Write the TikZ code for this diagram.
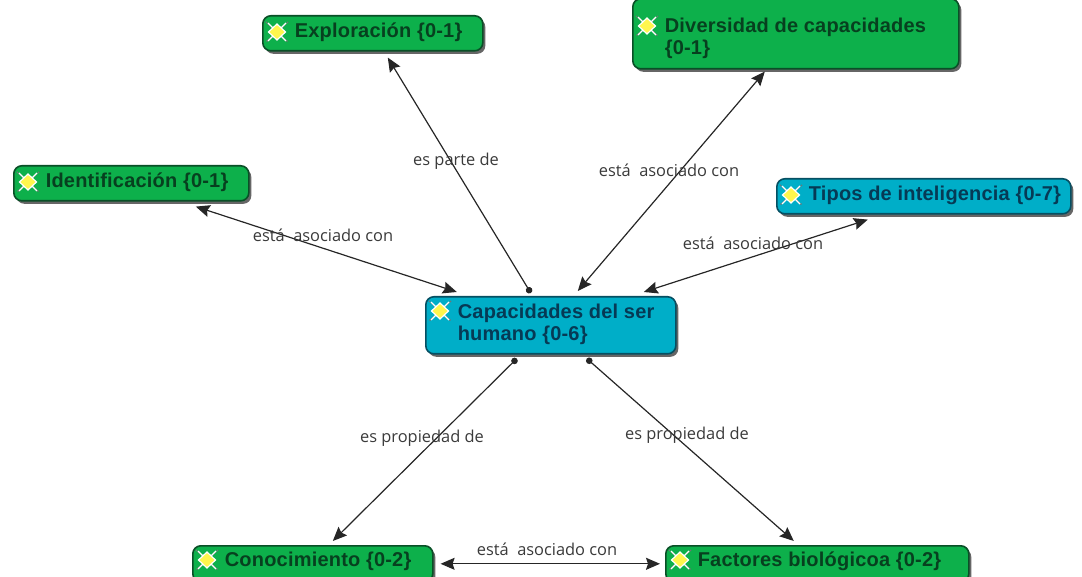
\documentclass[tikz,border=0pt]{standalone}
\usepackage{fontspec}
\setmainfont{Liberation Sans}
\newfontfamily\lblfont{Open Sans}
\newfontfamily\boxfont[LetterSpace=1]{Liberation Sans Bold}
\usetikzlibrary{calc,arrows.meta,shadows}
\definecolor{boxgreen}{HTML}{0DB04B}
\definecolor{boxblue}{HTML}{00AEC8}
\definecolor{greentxt}{HTML}{07401F}
\definecolor{bluetxt}{HTML}{063A55}
\definecolor{edgegreen}{HTML}{0A4F27}
\definecolor{edgeblue}{HTML}{064F62}
\definecolor{lbl}{HTML}{3A3A3A}
\newcommand{\boxtext}[2]{\makebox[#1pt][l]{\hspace{32pt}\begin{tabular}{@{}l@{}}#2\end{tabular}}}
\tikzset{
  x=1pt,y=-1pt,
  concept/.style={rounded corners=8pt,line width=1.6pt,anchor=north west,inner sep=0pt,
    font=\boxfont\fontsize{20}{22}\selectfont,
    drop shadow={shadow xshift=2.5pt,shadow yshift=-3pt,fill=black,opacity=.6}},
  greenbox/.style={concept,fill=boxgreen,draw=edgegreen,text=greentxt},
  bluebox/.style={concept,fill=boxblue,draw=edgeblue,text=bluetxt},
  relabel/.style={font=\lblfont\fontsize{16.4}{19}\selectfont,text=lbl,inner sep=0pt},
  biarrow/.style={line width=1.2pt,draw=black!85,{Stealth[length=14pt,width=12pt,inset=2pt]}-{Stealth[length=14pt,width=12pt,inset=2pt]}},
  onearrow/.style={line width=1.2pt,draw=black!85,{Circle[length=6.5pt]}-{Stealth[length=14pt,width=12pt,inset=2pt]}},
  pics/icon/.style={code={
    \draw[black!55,line width=1.3pt,densely dotted] (-11,-10)--(11,10) (11,-10)--(-11,10);
    \draw[white,line width=1.2pt] (-9,-9)--(9,9) (9,-9)--(-9,9);
    \fill[fill=yellow!70!white,draw=white,line width=1.2pt] (-8.5,0)--(0,-8)--(8.5,0)--(0,8)--cycle;
  }}
}
\begin{document}
\begin{tikzpicture}
\useasboundingbox (0,0) rectangle (1082,577);
\clip (0,0) rectangle (1082,577);
\node[greenbox,minimum height=35pt] (expl) at (262,15) {\boxtext{220}{Exploración \{0-1\}}};
\node[greenbox,minimum height=70pt] (div) at (632,-2) {\boxtext{326}{\rule{0pt}{27pt}Diversidad de capacidades\\\{0-1\}}};
\node[greenbox,minimum height=35pt] (iden) at (13,165) {\boxtext{235}{Identificación \{0-1\}}};
\node[bluebox,minimum height=35pt] (tipos) at (776,178) {\boxtext{294}{Tipos de inteligencia \{0-7\}}};
\node[bluebox,minimum height=57pt] (cap) at (425,296) {\boxtext{250}{Capacidades del ser\\humano \{0-6\}}};
\node[greenbox,minimum height=36pt] (con) at (192,545) {\boxtext{240}{Conocimiento \{0-2\}\rule[-10pt]{0pt}{10pt}}};
\node[greenbox,minimum height=36pt] (fac) at (665,545) {\boxtext{303}{Factores biológicoa \{0-2\}\rule[-10pt]{0pt}{10pt}}};
\pic at (277,32) {icon};
\pic at (647,26) {icon};
\pic at (28,182) {icon};
\pic at (791,195) {icon};
\pic at (440,311) {icon};
\pic at (207,560) {icon};
\pic at (680,560) {icon};
\draw[onearrow] ($(cap.north)+(-20,-3)$) -- ($(expl.south)+(15,6)$);
\draw[biarrow] ($(cap.north)+(27,-5)$) -- ($(div.south)+(-31,2)$);
\draw[biarrow] ($(cap.north)+(-94,-4)$) -- ($(iden.south)+(64.5,5)$);
\draw[biarrow] ($(cap.north)+(93,-4)$) -- ($(tipos.south)+(-56,5)$);
\draw[onearrow] ($(cap.south)+(-34,4)$) -- ($(con.north)+(20,-4)$);
\draw[onearrow] ($(cap.south)+(36,4)$) -- ($(fac.north)+(-23.5,-4)$);
\draw[biarrow] ($(con.east)+(7,0)$) -- ($(fac.west)+(-5,0)$);
\node[relabel] (l1) at (456,161) {es parte de};
\node[relabel] (l2) at (669,170) {está\ \ asociado con};
\node[relabel] (l3) at (323,235) {está\ \ asociado con};
\node[relabel] (l4) at (753,243) {está\ \ asociado con};
\node[relabel] (l5) at (422,438) {es propiedad de};
\node[relabel] (l6) at (687,435) {es propiedad de};
\node[relabel] (l7) at (547,549) {está\ \ asociado con};
\end{tikzpicture}
\end{document}
